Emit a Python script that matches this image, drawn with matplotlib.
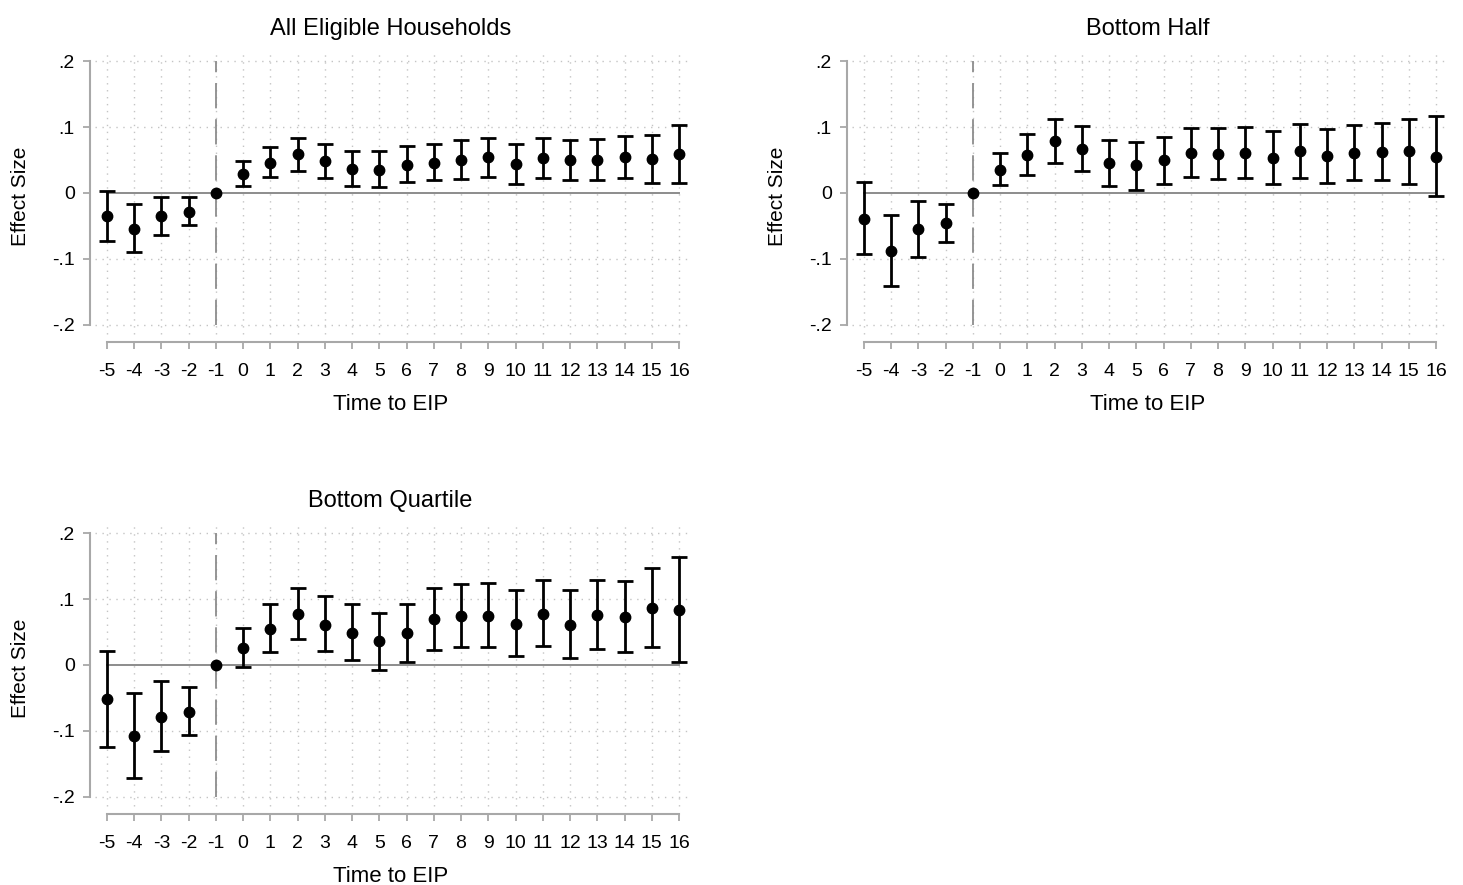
import matplotlib.pyplot as plt
import numpy as np

# data: event-study coefficients and 95% CI bounds
periods = list(range(-5, 17))

all_coef = [-0.035, -0.054, -0.035, -0.029, 0.0, 0.029, 0.046, 0.059, 0.049, 0.036, 0.035,
            0.043, 0.046, 0.050, 0.054, 0.044, 0.053, 0.050, 0.050, 0.055, 0.052, 0.059]
all_lo = [-0.072, -0.090, -0.064, -0.049, 0.0, 0.011, 0.024, 0.034, 0.023, 0.010, 0.009,
          0.016, 0.019, 0.021, 0.025, 0.014, 0.023, 0.020, 0.020, 0.023, 0.015, 0.015]
all_hi = [0.003, -0.016, -0.006, -0.006, 0.0, 0.048, 0.070, 0.084, 0.075, 0.064, 0.063,
          0.071, 0.075, 0.080, 0.084, 0.074, 0.083, 0.080, 0.082, 0.087, 0.088, 0.103]

half_coef = [-0.039, -0.088, -0.054, -0.045, 0.0, 0.035, 0.057, 0.079, 0.066, 0.045, 0.042,
             0.050, 0.061, 0.059, 0.060, 0.053, 0.063, 0.056, 0.061, 0.062, 0.063, 0.055]
half_lo = [-0.093, -0.141, -0.097, -0.074, 0.0, 0.012, 0.027, 0.046, 0.033, 0.010, 0.005,
           0.013, 0.024, 0.021, 0.022, 0.014, 0.023, 0.015, 0.020, 0.019, 0.014, -0.005]
half_hi = [0.017, -0.034, -0.012, -0.016, 0.0, 0.060, 0.089, 0.112, 0.101, 0.081, 0.078,
           0.085, 0.099, 0.098, 0.100, 0.094, 0.104, 0.097, 0.103, 0.106, 0.112, 0.116]

quart_coef = [-0.052, -0.108, -0.079, -0.071, 0.0, 0.026, 0.055, 0.078, 0.061, 0.049, 0.036,
              0.048, 0.070, 0.075, 0.075, 0.062, 0.078, 0.061, 0.076, 0.073, 0.086, 0.083]
quart_lo = [-0.124, -0.172, -0.131, -0.106, 0.0, -0.003, 0.020, 0.040, 0.021, 0.007, -0.007,
            0.005, 0.023, 0.027, 0.027, 0.013, 0.029, 0.010, 0.025, 0.019, 0.027, 0.005]
quart_hi = [0.021, -0.042, -0.024, -0.034, 0.0, 0.056, 0.092, 0.117, 0.104, 0.092, 0.079,
            0.092, 0.117, 0.123, 0.124, 0.113, 0.129, 0.113, 0.129, 0.128, 0.147, 0.163]

yticks = [-0.2, -0.1, 0, 0.1, 0.2]
ytick_labels = ['-.2', '-.1', '0', '.1', '.2']

plt.rcParams['font.family'] = ['Liberation Sans', 'DejaVu Sans']
plt.rcParams['axes.unicode_minus'] = False

W, H = 1463, 885
fig = plt.figure(figsize=(W / 100, H / 100), dpi=100)


def panel(left_px, top_px, title, coef, lo, hi):
    ax = fig.add_axes([left_px / W, 1 - (top_px + 292) / H, 601 / W, 292 / H])
    x = np.array(periods)
    coef, lo, hi = np.array(coef), np.array(lo), np.array(hi)

    # dotted grid
    for yv in [-0.2, -0.1, 0.1, 0.2]:
        ax.plot([-5.45, 16.44], [yv, yv], color='#c4c4c4', lw=1, ls=(0, (1, 4)), zorder=1)
    for xv in x:
        ax.plot([xv, xv], [-0.214, 0.2167], color='#c4c4c4', lw=1, ls=(0, (1, 4)), zorder=1)

    ax.plot([-5, 16], [0, 0], color='#8c8c8c', lw=1.4, zorder=2)
    ax.plot([-1, -1], [-0.2, 0.2], color='#8c8c8c', lw=1.3, ls=(0, (14, 6)), zorder=2)

    m = x != -1
    ax.errorbar(x[m], coef[m], yerr=[coef[m] - lo[m], hi[m] - coef[m]], fmt='none',
                ecolor='black', elinewidth=2, capsize=6, capthick=2, zorder=3)
    ax.plot(x, coef, 'o', color='black', markersize=7.5, zorder=4)

    ax.set_xlim(-5.62, 16.44)
    ax.set_ylim(-0.2258, 0.2167)
    ax.set_xticks(periods)
    ax.set_yticks(yticks)
    ax.set_yticklabels(ytick_labels)
    for s in ['top', 'right']:
        ax.spines[s].set_visible(False)
    for s in ['left', 'bottom']:
        ax.spines[s].set_color('#a8a8a8')
        ax.spines[s].set_linewidth(1.5)
    ax.spines['left'].set_bounds(-0.2, 0.2)
    ax.spines['bottom'].set_bounds(-5, 16)
    ax.tick_params(colors='#a8a8a8', width=1.3, length=5, labelcolor='black',
                   labelsize=14, pad=6)
    ax.tick_params(axis='x', pad=10)
    ax.set_xlabel('Time to EIP', fontsize=16, labelpad=10)
    ax.set_ylabel('Effect Size', fontsize=15, labelpad=16)
    ax.set_title(title, fontsize=17, pad=11)
    ax.set_facecolor('none')
    return ax


panel(90, 50, 'All Eligible Households', all_coef, all_lo, all_hi)
panel(847, 50, 'Bottom Half', half_coef, half_lo, half_hi)
panel(90, 522, 'Bottom Quartile', quart_coef, quart_lo, quart_hi)

fig.savefig('out.png', dpi=100)
